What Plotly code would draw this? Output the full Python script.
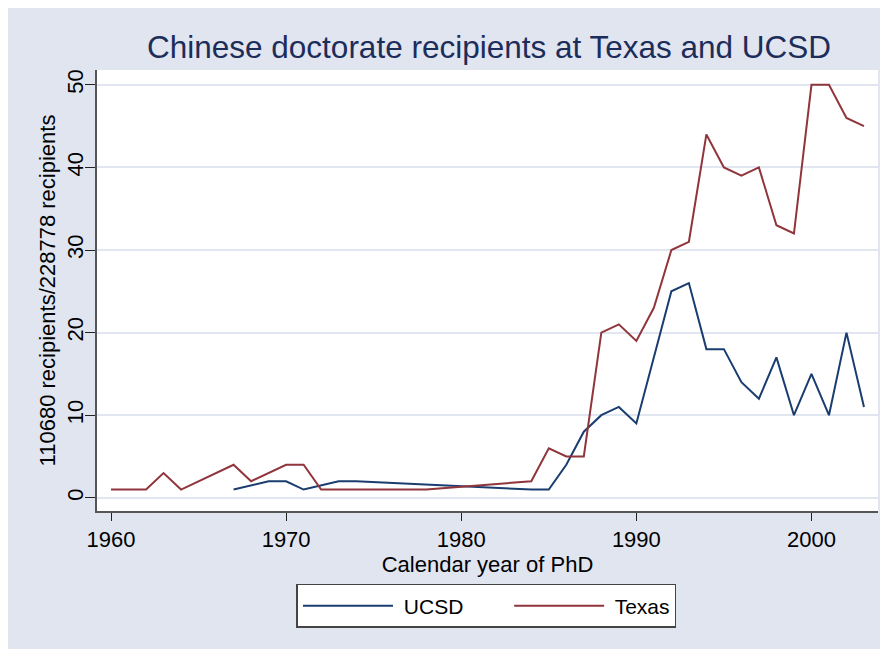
import plotly.graph_objects as go

# UCSD
ucsd_years = [1967, 1969, 1970, 1971, 1973, 1974, 1984, 1985, 1986, 1987, 1988, 1989,
              1990, 1991, 1992, 1993, 1994, 1995, 1996, 1997, 1998, 1999, 2000, 2001, 2002, 2003]
ucsd_vals = [1, 2, 2, 1, 2, 2, 1, 1, 4, 8, 10, 11,
             9, 17, 25, 26, 18, 18, 14, 12, 17, 10, 15, 10, 20, 11]

# Texas
texas_years = [1960, 1961, 1962, 1963, 1964, 1967, 1968, 1970, 1971, 1972, 1978, 1984,
               1985, 1986, 1987, 1988, 1989, 1990, 1991, 1992, 1993, 1994, 1995, 1996,
               1997, 1998, 1999, 2000, 2001, 2002, 2003]
texas_vals = [1, 1, 1, 3, 1, 4, 2, 4, 4, 1, 1, 2,
              6, 5, 5, 20, 21, 19, 23, 30, 31, 44, 40, 39,
              40, 33, 32, 50, 50, 46, 45]

x_ticks = [1960, 1970, 1980, 1990, 2000]
y_ticks = [0, 10, 20, 30, 40, 50]

bg = "#e1e5f0"
font = "Liberation Sans, Arial, sans-serif"
pad = "\u00a0" * 7  # room between the two legend entries

fig = go.Figure()
fig.add_trace(go.Scatter(x=ucsd_years, y=ucsd_vals, mode="lines", name=" UCSD" + pad,
                         line=dict(color="#1a3d6f", width=2)))
fig.add_trace(go.Scatter(x=texas_years, y=texas_vals, mode="lines", name=" Texas",
                         line=dict(color="#90353b", width=2)))

fig.update_layout(
    width=888, height=649,
    margin=dict(l=89, r=18, t=62, b=146),
    paper_bgcolor=bg,
    plot_bgcolor="white",
    font=dict(family=font, color="black"),
    title=dict(text="Chinese doctorate recipients at Texas and UCSD",
               x=0.5417, xanchor="center", y=0.94, yanchor="middle",
               font=dict(size=31.5, color="#1c2d5a")),
    xaxis=dict(range=[1959.2, 2003.8], tickvals=x_ticks, ticks="outside", ticklen=8,
               tickcolor="#222", tickwidth=1.2, showline=True, linecolor="#555", linewidth=2,
               showgrid=False, zeroline=False, tickfont=dict(size=22), automargin=False,
               ticklabelstandoff=0,
               title=dict(text="Calendar year of PhD", font=dict(size=22), standoff=0)),
    yaxis=dict(range=[-1.6, 51.8], tickvals=y_ticks, ticks="outside", ticklen=10,
               tickcolor="#222", tickwidth=1.2, showline=True, linecolor="#555", linewidth=1.5,
               showgrid=True, gridcolor="#e1e6f0", gridwidth=2, zeroline=False,
               tickangle=-90, tickfont=dict(size=22), automargin=False,
               ticklabelstandoff=-7,
               title=dict(text="110680 recipients/228778 recipients", font=dict(size=22), standoff=2)),
    legend=dict(orientation="h", x=0.4987, xanchor="center", y=-0.1655, yanchor="top",
                bgcolor="white", bordercolor="#444", borderwidth=1.5,
                font=dict(size=21), itemwidth=90,
                traceorder="normal"),
)

fig.write_html("out.html")
